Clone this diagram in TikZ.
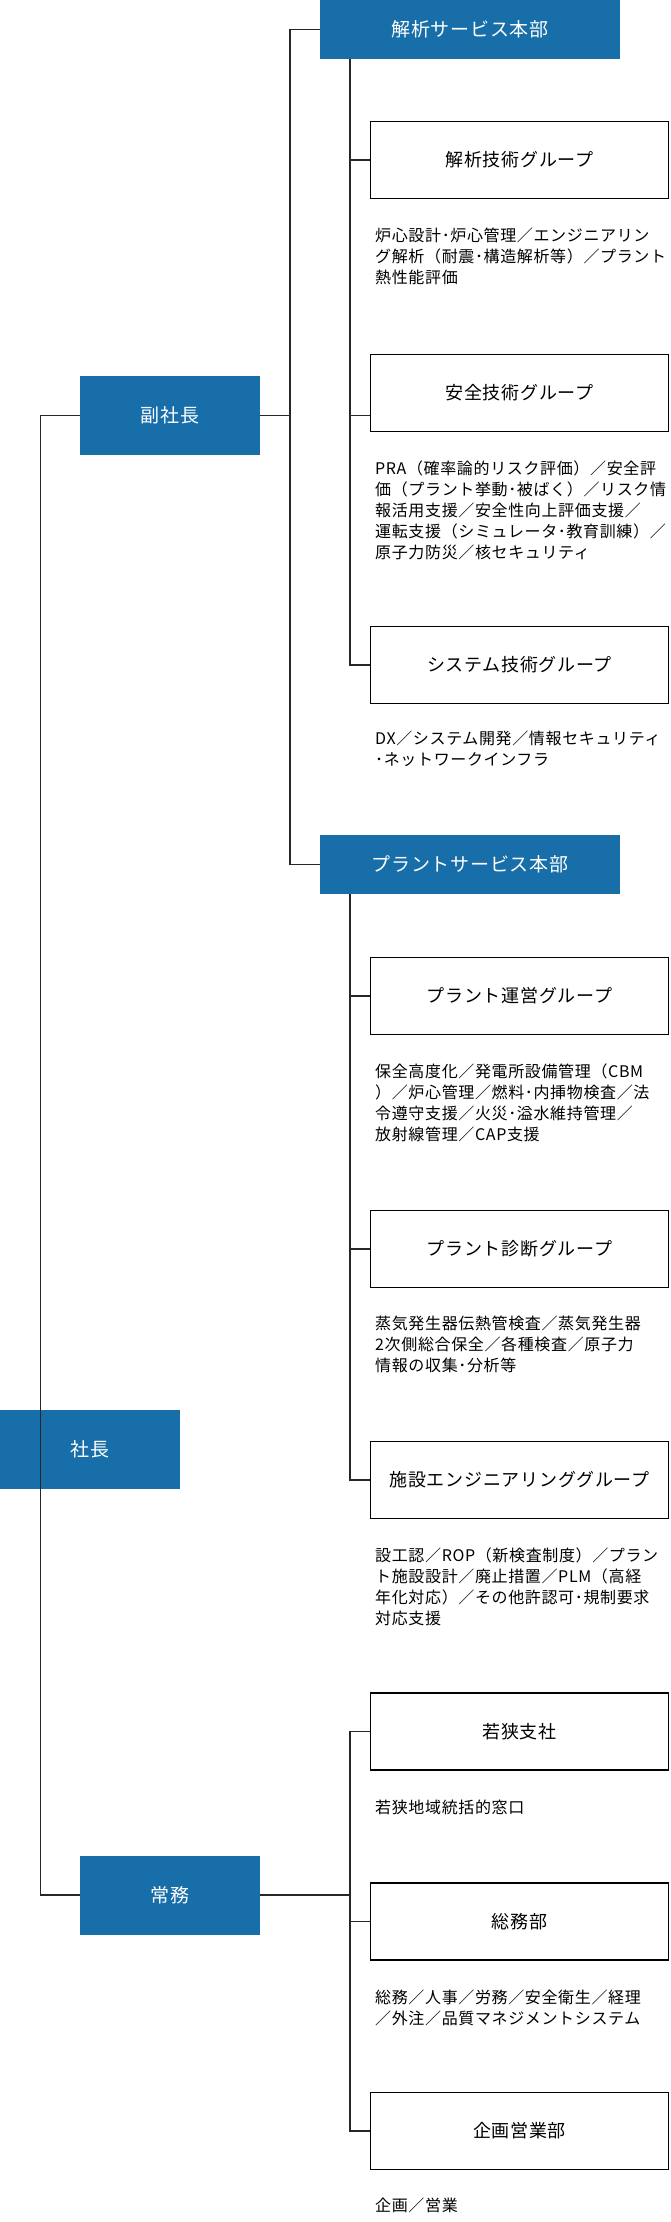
\documentclass[tikz,border=0pt]{standalone}
\usepackage{fontspec}
\setmainfont{Noto Sans CJK JP}
\newfontfamily\descfont[LetterSpace=4]{Noto Sans CJK JP}
\definecolor{orgblue}{HTML}{176EA8}
\tikzset{
  headbox/.style={fill=orgblue,text=white,minimum width=180pt,minimum height=79pt,font=\descfont\fontsize{19}{19}\selectfont},
  deptbox/.style={fill=orgblue,text=white,minimum width=300pt,minimum height=59pt,font=\descfont\fontsize{19}{19}\selectfont},
  groupbox/.style={draw=black,line width=1.3pt,minimum width=298pt,minimum height=77pt,font=\descfont\fontsize{18}{18}\selectfont},
  desc/.style={anchor=north west,align=left,inner sep=0pt,font=\descfont\fontsize{16}{21}\selectfont},
  link/.style={draw=black!85,line width=1.2pt}
}
\begin{document}
\begin{tikzpicture}[x=1pt,y=-1pt]
  \useasboundingbox (0,0) rectangle (670,2222);

  % top level
  \node[headbox] (pres) at (90,1449.5) {社長};
  \node[headbox] (vp) at (170,415.5) {副社長};
  \node[headbox] (md) at (170,1895) {常務};

  % 副社長
  \node[deptbox] (ana) at (470,29.5) {解析サービス本部};
  \node[deptbox] (plant) at (470,864.5) {プラントサービス本部};

  \node[groupbox] (g1) at (519.5,160) {解析技術グループ};
  \node[desc] (d1) at (375,228) {炉心設計･炉心管理／エンジニアリン\\グ解析（耐震･構造解析等）／プラント\\熱性能評価};
  \node[groupbox] (g2) at (519.5,393) {安全技術グループ};
  \node[desc] (d2) at (375,461) {PRA（確率論的リスク評価）／安全評\\価（プラント挙動･被ばく）／リスク情\\報活用支援／安全性向上評価支援／\\運転支援（シミュレータ･教育訓練）／\\原子力防災／核セキュリティ};
  \node[groupbox] (g3) at (519.5,665) {システム技術グループ};
  \node[desc] (d3) at (375,731) {DX／システム開発／情報セキュリティ\\･ネットワークインフラ};

  \node[groupbox] (g4) at (519.5,996) {プラント運営グループ};
  \node[desc] (d4) at (375,1064) {保全高度化／発電所設備管理（CBM\\）／炉心管理／燃料･内挿物検査／法\\令遵守支援／火災･溢水維持管理／\\放射線管理／CAP支援};
  \node[groupbox] (g5) at (519.5,1249) {プラント診断グループ};
  \node[desc] (d5) at (375,1316) {蒸気発生器伝熱管検査／蒸気発生器\\2次側総合保全／各種検査／原子力\\情報の収集･分析等};
  \node[groupbox] (g6) at (519.5,1480) {施設エンジニアリンググループ};
  \node[desc] (d6) at (375,1548) {設工認／ROP（新検査制度）／プラン\\ト施設設計／廃止措置／PLM（高経\\年化対応）／その他許認可･規制要求\\対応支援};

  % 常務
  \node[groupbox] (g7) at (519.5,1731.5) {若狭支社};
  \node[desc] (d7) at (375,1800) {若狭地域統括的窓口};
  \node[groupbox] (g8) at (519.5,1921.5) {総務部};
  \node[desc] (d8) at (375,1990) {総務／人事／労務／安全衛生／経理\\／外注／品質マネジメントシステム};
  \node[groupbox] (g9) at (519.5,2131) {企画営業部};
  \node[desc] (d9) at (375,2198) {企画／営業};

  % connectors
  \coordinate (trunk) at (40.5,0);
  \coordinate (mid) at (290,0);
  \coordinate (sub) at (350,0);
  \path[link] (vp.west) -| (trunk |- md.west) -- (md.west);
  \path[link] (vp.east) -- (mid |- vp.east);
  \path[link] (ana.west) -| (mid |- plant.west) -- (plant.west);
  \path[link] (sub |- ana.south) |- (g3.west);
  \path[link] (sub |- vp.east) -- (g2.west |- vp.east);
  \path[link] (sub |- g1.west) -- (g1.west);
  \path[link] (sub |- plant.south) |- (g6.west);
  \path[link] (sub |- g4.west) -- (g4.west);
  \path[link] (sub |- g5.west) -- (g5.west);
  \path[link] (g7.west) -| (sub |- g9.west) -- (g9.west);
  \path[link] (md.east) -- (sub |- md.east);
  \path[link] (sub |- g8.west) -- (g8.west);
\end{tikzpicture}
\end{document}
